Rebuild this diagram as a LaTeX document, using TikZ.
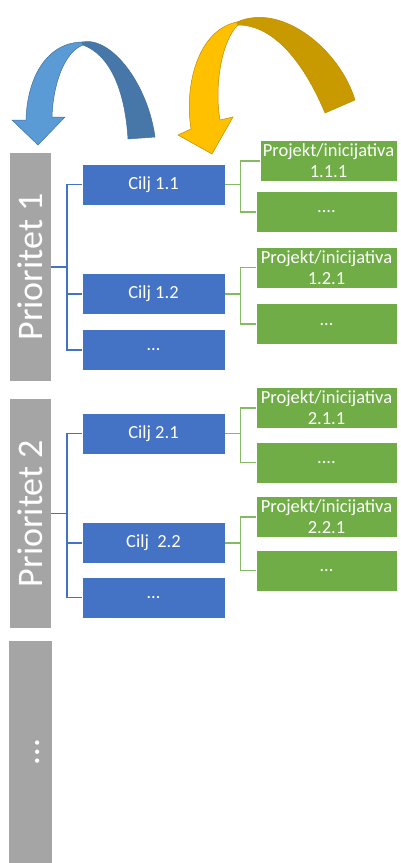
\documentclass[tikz,border=0pt]{standalone}
\usepackage{fontspec}
\setmainfont{Carlito}
\usetikzlibrary{positioning}

\definecolor{barGray}{HTML}{A5A5A5}
\definecolor{ciljBlue}{HTML}{4472C4}
\definecolor{projGreen}{HTML}{70AD47}
\definecolor{arrLight}{HTML}{5B9BD5}
\definecolor{arrDark}{HTML}{4677A8}
\definecolor{arrEdge}{HTML}{41719C}
\definecolor{goldLight}{HTML}{FFC000}
\definecolor{goldDark}{HTML}{C99A00}
\definecolor{goldEdge}{HTML}{BC8C00}

\begin{document}
\begin{tikzpicture}[x=1pt, y=1pt,
        prio/.style={fill=barGray, text=white, rotate=90, minimum height=41pt, inner sep=0pt, font=\fontsize{36}{43}\selectfont},
        cilj/.style={fill=ciljBlue, draw=white, line width=0.6pt, text=white, minimum width=143pt, minimum height=41pt, inner sep=0pt, font=\fontsize{18.5}{21}\selectfont},
        proj/.style={fill=projGreen, draw=white, line width=0.6pt, text=white, minimum width=141pt, minimum height=41pt, inner sep=0pt, align=center, font=\fontsize{18.5}{21}\selectfont},
        bline/.style={draw=ciljBlue, line width=1.6pt},
        gline/.style={draw=projGreen!85!white, line width=1.6pt}
    ]
        \useasboundingbox (0,0) rectangle (401,-863);

        % Curved arrows
        \filldraw[fill=arrDark, draw=arrEdge, line width=0.5pt] (82,-42) .. controls (112,-36) and (148,-85) .. (155,-137) -- (128,-139) .. controls (125,-90) and (110,-55) .. (83,-45) -- cycle;
        \filldraw[fill=arrLight, draw=arrEdge, line width=0.5pt] (38,-145) -- (12,-120) -- (26,-120) .. controls (27,-80) and (45,-43) .. (82,-42) -- (83,-45) .. controls (64,-52) and (53,-85) .. (52,-117) -- (65,-117) -- cycle;
        \filldraw[fill=goldDark, draw=goldEdge, line width=0.5pt] (237,-22) .. controls (282,-2) and (340,-50) .. (355,-100) -- (325,-113) .. controls (305,-65) and (275,-25) .. (238,-25) -- cycle;
        \filldraw[fill=goldLight, draw=goldEdge, line width=0.5pt] (212,-154) -- (178,-135) -- (191,-129) .. controls (184,-85) and (198,-30) .. (237,-22) -- (238,-25) .. controls (222,-40) and (214,-85) .. (220,-120) -- (233,-117) -- cycle;

        % Priorities
        \node[prio, minimum width=228pt] (p1) at (30.5,-267) {Prioritet 1};
        \node[prio, minimum width=229pt] (p2) at (30.5,-513.5) {Prioritet 2};
        \node[prio, minimum width=222pt] (p3) at (30.5,-752) {\strut …};

        % Goals
        \node[cilj] (c11) at (153.5,-184.5) {Cilj 1.1};
        \node[cilj, below=68pt of c11] (c12) {Cilj 1.2};
        \node[cilj, below=14pt of c12] (c13) {…};
        \node[cilj, below=42pt of c13] (c21) {Cilj 2.1};
        \node[cilj, below=68pt of c21] (c22) {Cilj~ 2.2};
        \node[cilj, below=13pt of c22] (c23) {…};

        % Projects
        \node[proj, minimum width=137pt] (g111) at (328.5,-161) {Projekt/inicijativa\\1.1.1};
        \node[proj] (g112) at (326.5,-212) {....};
        \node[proj, below=14pt of g112] (g121) {Projekt/inicijativa\\1.2.1};
        \node[proj, below=15pt of g121] (g122) {…};
        \node[proj, below=42pt of g122] (g211) {Projekt/inicijativa\\2.1.1};
        \node[proj, below=13pt of g211] (g212) {....};
        \node[proj, below=13pt of g212] (g221) {Projekt/inicijativa\\2.2.1};
        \node[proj, below=12pt of g221] (g222) {…};

        % Brackets
        \draw[bline] (p1.south) -- ++(16,0) coordinate (j1);
        \draw[bline] (p2.south) -- ++(16,0) coordinate (j2);
        \foreach \c in {c11,c12,c13} \draw[bline] (j1) |- (\c.west);
        \foreach \c in {c21,c22,c23} \draw[bline] (j2) |- (\c.west);

        \foreach \c/\a/\b in {c11/g111/g112, c12/g121/g122, c21/g211/g212, c22/g221/g222} {
            \draw[gline] (\c.east) -- ++(15,0) coordinate (k);
            \draw[gline] (k) |- (\a.west);
            \draw[gline] (k) |- (\b.west);
        }
    \end{tikzpicture}
\end{document}
